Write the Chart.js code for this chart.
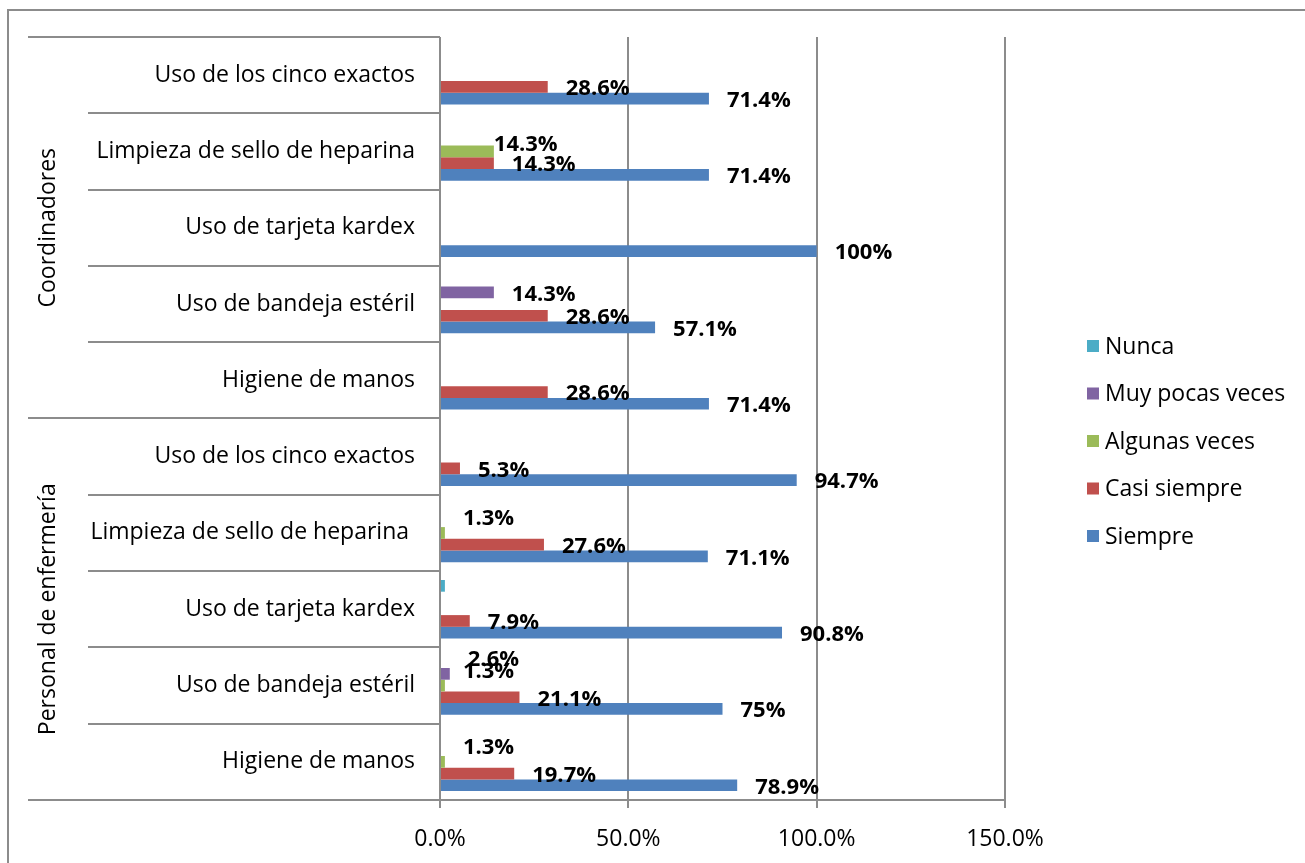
<!DOCTYPE html>
<html>
<head>
<meta charset="utf-8">
<script src="https://cdn.jsdelivr.net/npm/chart.js@4.4.1/dist/chart.umd.min.js"></script>
<style>
  html, body { margin: 0; padding: 0; background: #fff; }
  #caja { width: 1305px; height: 863px; }
</style>
</head>
<body>
<div id="caja"><canvas id="grafico-practicas"></canvas></div>
<script>
// Datos (de arriba hacia abajo)
const grupos = ['Coordinadores', 'Personal de enfermería'];
const grupoDeCategoria = [0, 0, 0, 0, 0, 1, 1, 1, 1, 1];
const categorias = [
    'Uso de los cinco exactos', 'Limpieza de sello de heparina', 'Uso de tarjeta kardex', 'Uso de bandeja estéril', 'Higiene de manos',
    'Uso de los cinco exactos', 'Limpieza de sello de heparina ', 'Uso de tarjeta kardex', 'Uso de bandeja estéril', 'Higiene de manos'
];
const nunca        = [null, null, null, null, null, null, null, 1.3, null, null];
const muyPocas     = [null, null, null, 14.3, null, null, null, null, 2.6, null];
const algunasVeces = [null, 14.3, null, null, null, null, 1.3, null, 1.3, 1.3];
const casiSiempre  = [28.6, 14.3, null, 28.6, 28.6, 5.3, 27.6, 7.9, 21.1, 19.7];
const siempre      = [71.4, 71.4, 100, 57.1, 71.4, 94.7, 71.1, 90.8, 75, 78.9];
const ticksX = [0, 50, 100, 150];

const FUENTE = '"Open Sans", sans-serif';
const GRIS = '#8c8c8c';

// Dibuja borde, etiquetas de grupo, separadores, etiquetas de datos y leyenda
const extras = {
    id: 'extras',
    afterDraw(chart) {
        const ctx = chart.ctx;
        const area = chart.chartArea;
        const y = chart.scales.y;
        ctx.save();

        // borde exterior
        ctx.strokeStyle = GRIS;
        ctx.lineWidth = 2;
        ctx.strokeRect(8, 10, chart.width + 20, chart.height + 20);

        // separadores de categorías
        const paso = y.getPixelForTick(1) - y.getPixelForTick(0);
        const inicio = y.getPixelForTick(0) - paso / 2;
        for (let i = 0; i <= categorias.length; i++) {
            const py = Math.round(inicio + i * paso);
            const cambio = i === 0 || i === categorias.length || grupoDeCategoria[i] !== grupoDeCategoria[i - 1];
            ctx.beginPath();
            ctx.moveTo(cambio ? 28 : 88, py);
            ctx.lineTo(area.left, py);
            ctx.stroke();
        }

        // etiquetas de grupo (giradas)
        ctx.fillStyle = '#000';
        ctx.font = '23px ' + FUENTE;
        ctx.textAlign = 'center';
        ctx.textBaseline = 'middle';
        grupos.forEach((g, gi) => {
            const idx = grupoDeCategoria.map((v, i) => v === gi ? i : -1).filter(i => i >= 0);
            const centro = (y.getPixelForTick(idx[0]) + y.getPixelForTick(idx[idx.length - 1])) / 2;
            ctx.save();
            ctx.translate(48, centro);
            ctx.rotate(-Math.PI / 2);
            ctx.fillText(g, 0, 0);
            ctx.restore();
        });

        // etiquetas de datos
        ctx.font = 'bold 22px ' + FUENTE;
        ctx.textAlign = 'left';
        const dsets = chart.data.datasets;
        dsets.forEach((ds, di) => {
            if (ds.sinEtiqueta) return;
            chart.getDatasetMeta(di).data.forEach((bar, i) => {
                const v = ds.data[i];
                if (v === null) return;
                let dx = 18, dy = v < 5 ? -14 : 2;
                // si la barra de abajo tiene el mismo valor, se corre la etiqueta
                const abajo = dsets[di + 1];
                if (v >= 5 && abajo && abajo.data[i] === v) { dx = 0; dy = -7; }
                ctx.fillText(v + '%', bar.x + dx, bar.y + dy);
            });
        });

        // leyenda
        ctx.font = '23px ' + FUENTE;
        dsets.forEach((ds, di) => {
            const ly = 346 + di * 47.5;
            ctx.fillStyle = ds.backgroundColor;
            ctx.fillRect(1087, ly - 6, 12, 12);
            ctx.fillStyle = '#000';
            ctx.fillText(ds.label, 1105, ly + 1);
        });
        ctx.restore();
    }
};

new Chart(document.getElementById('grafico-practicas'), {
    type: 'bar',
    data: {
        labels: categorias,
        datasets: [
            { label: 'Nunca', data: nunca, backgroundColor: '#4BACC6', sinEtiqueta: true },
            { label: 'Muy pocas veces', data: muyPocas, backgroundColor: '#8064A2' },
            { label: 'Algunas veces', data: algunasVeces, backgroundColor: '#9BBB59' },
            { label: 'Casi siempre', data: casiSiempre, backgroundColor: '#C0504D' },
            { label: 'Siempre', data: siempre, backgroundColor: '#4F81BD' }
        ]
    },
    options: {
        indexAxis: 'y',
        responsive: true,
        maintainAspectRatio: false,
        animation: false,
        datasets: {
            bar: { barPercentage: 1, categoryPercentage: 0.767 }
        },
        layout: { padding: { left: 8, top: 37, right: 300, bottom: 0 } },
        plugins: {
            legend: { display: false },
            title: { display: false },
            tooltip: { enabled: false }
        },
        scales: {
            x: {
                min: 0,
                max: 150,
                afterBuildTicks: scale => { scale.ticks = ticksX.map(v => ({ value: v })); },
                afterFit: scale => { scale.height = 63; },
                grid: { color: GRIS, lineWidth: 2, tickLength: 8, drawTicks: true },
                border: { display: true, color: GRIS, width: 2 },
                ticks: {
                    padding: 18,
                    color: '#000',
                    font: { family: FUENTE, size: 23 },
                    callback: value => value.toFixed(1) + '%'
                }
            },
            y: {
                afterFit: scale => { scale.width = 432; },
                grid: { display: false },
                border: { display: false },
                ticks: {
                    padding: 17,
                    color: '#000',
                    font: { family: FUENTE, size: 23 }
                }
            }
        }
    },
    plugins: [extras]
});
</script>
</body>
</html>
